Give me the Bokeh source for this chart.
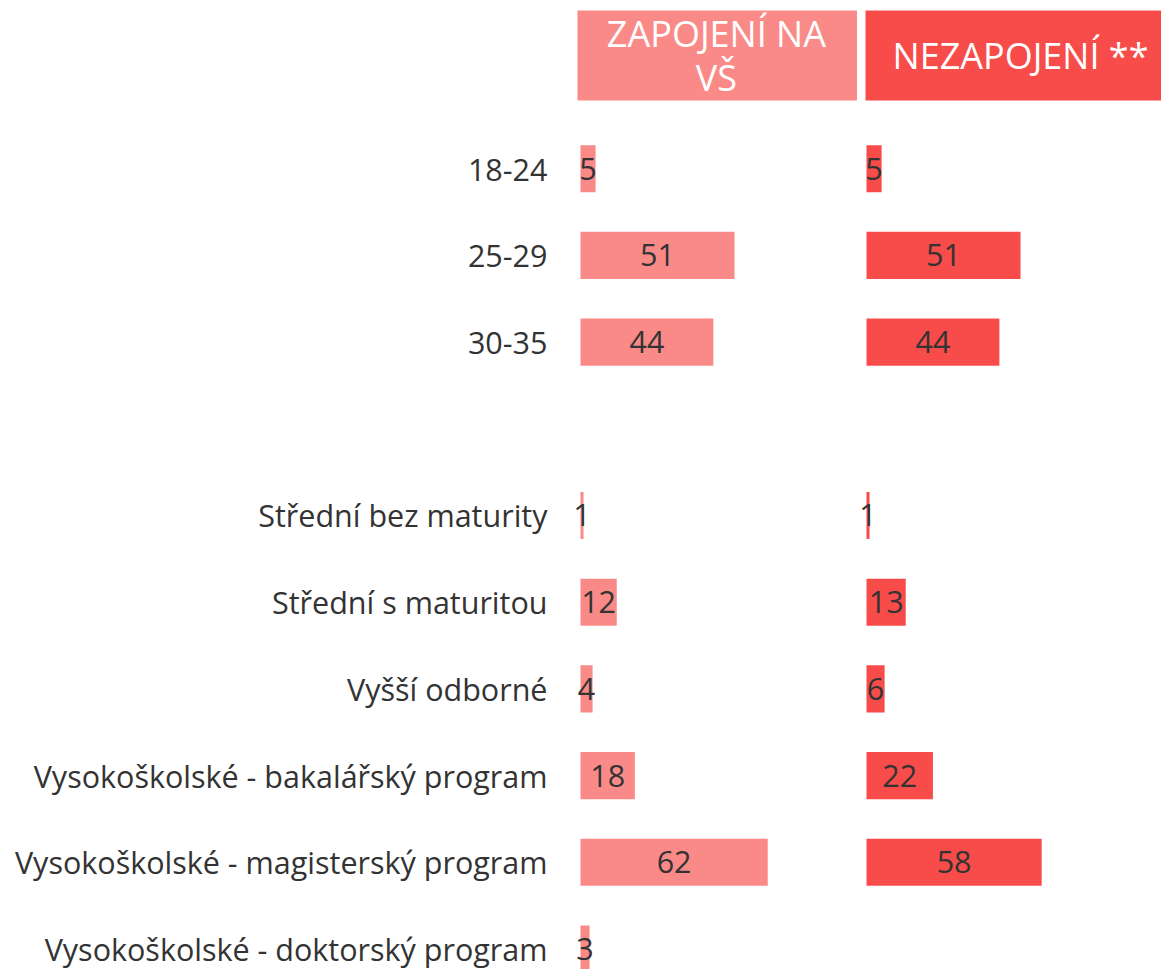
from bokeh.plotting import figure
from bokeh.layouts import row
from bokeh.models import Range1d, FixedTicker, ColumnDataSource
from bokeh.core.properties import value
from bokeh.embed import file_html
from bokeh.resources import INLINE

categories = ["18-24", "25-29", "30-35", "",
              "Střední bez maturity", "Střední s maturitou", "Vyšší odborné",
              "Vysokoškolské - bakalářský program",
              "Vysokoškolské - magisterský program",
              "Vysokoškolské - doktorský program"]
zapojeni = [5, 51, 44, None, 1, 12, 4, 18, 62, 3]
nezapojeni = [5, 51, 44, None, 1, 13, 6, 22, 58, None]
headers = ["ZAPOJENÍ NA\nVŠ", "NEZAPOJENÍ **"]
colors = ["#FA8A88", "#F74C4A"]

FONT = "Open Sans"
LABEL_SIZE = "30.5px"
TEXT_COLOR = "#333333"

positions = list(range(len(categories)))
H = 969
SP = 86.7
y_top = -1.94
y_bottom = y_top + H / SP
PX = 3.02  # pixels per unit


def make_panel(vals, color, header, width, bl, br, xstart, hdr_left, header_x, show_axis):
    frame_w = width - bl - br
    xend = xstart + frame_w / PX
    p = figure(width=width, height=H, output_backend="svg", toolbar_location=None,
               x_range=Range1d(xstart, xend), y_range=Range1d(y_bottom, y_top),
               min_border_left=bl, min_border_right=br, min_border_top=0, min_border_bottom=0,
               background_fill_color="white", border_fill_color="white")
    p.outline_line_color = None
    p.grid.visible = False
    p.xaxis.visible = False
    ys = [positions[i] for i, v in enumerate(vals) if v is not None]
    vs = [v for v in vals if v is not None]
    src = ColumnDataSource(dict(y=ys, v=vs, mid=[v / 2 for v in vs], lab=[str(v) for v in vs]))
    p.hbar(y="y", left=0, right="v", height=0.543, source=src, fill_color=color, line_color=None)
    p.text(x="mid", y="y", text="lab", source=src, text_align="center", text_baseline="middle",
           text_font=value(FONT), text_font_size=LABEL_SIZE, text_color=TEXT_COLOR)
    # header box
    hdr_right = xend + 20
    p.rect(x=[(hdr_left + hdr_right) / 2], y=[-1.305], width=[hdr_right - hdr_left], height=[1.039],
           fill_color=color, line_color=None)
    lines = header.split("\n")
    n = len(lines)
    offs = [(k - (n - 1) / 2) * 44 for k in range(n)]
    p.text(x=[header_x] * n, y=[-1.305] * n, text=lines, y_offset=offs,
           text_align="center", text_baseline="middle",
           text_font=value(FONT), text_font_size="36px", text_color="white")
    if show_axis:
        ticks = [positions[i] for i, c in enumerate(categories) if c]
        p.yaxis.ticker = FixedTicker(ticks=ticks)
        p.yaxis.major_label_overrides = {positions[i]: c for i, c in enumerate(categories) if c}
        p.yaxis.axis_line_color = None
        p.yaxis.major_tick_line_color = None
        p.yaxis.minor_tick_line_color = None
        p.yaxis.major_tick_out = 0
        p.yaxis.major_tick_in = 0
        p.yaxis.major_label_standoff = 22
        p.yaxis.major_label_text_font = FONT
        p.yaxis.major_label_text_font_size = LABEL_SIZE
        p.yaxis.major_label_text_color = TEXT_COLOR
    else:
        p.yaxis.visible = False
    return p


# panel 1: frame from page x 570 to 858, bars start at 581, header box from 578 to frame end
p1 = make_panel(zapojeni, colors[0], headers[0], 857, 569, 0, -11 / PX, -3 / PX, 45.0, True)
# panel 2: frame from page x 858 to 1162, bars start at 867, header box from 866
p2 = make_panel(nezapojeni, colors[1], headers[1], 304, 0, 0, -9 / PX, -1 / PX, 51.0, False)

layout = row(p1, p2, spacing=0)
open("out.html", "w").write(file_html(layout, INLINE))
